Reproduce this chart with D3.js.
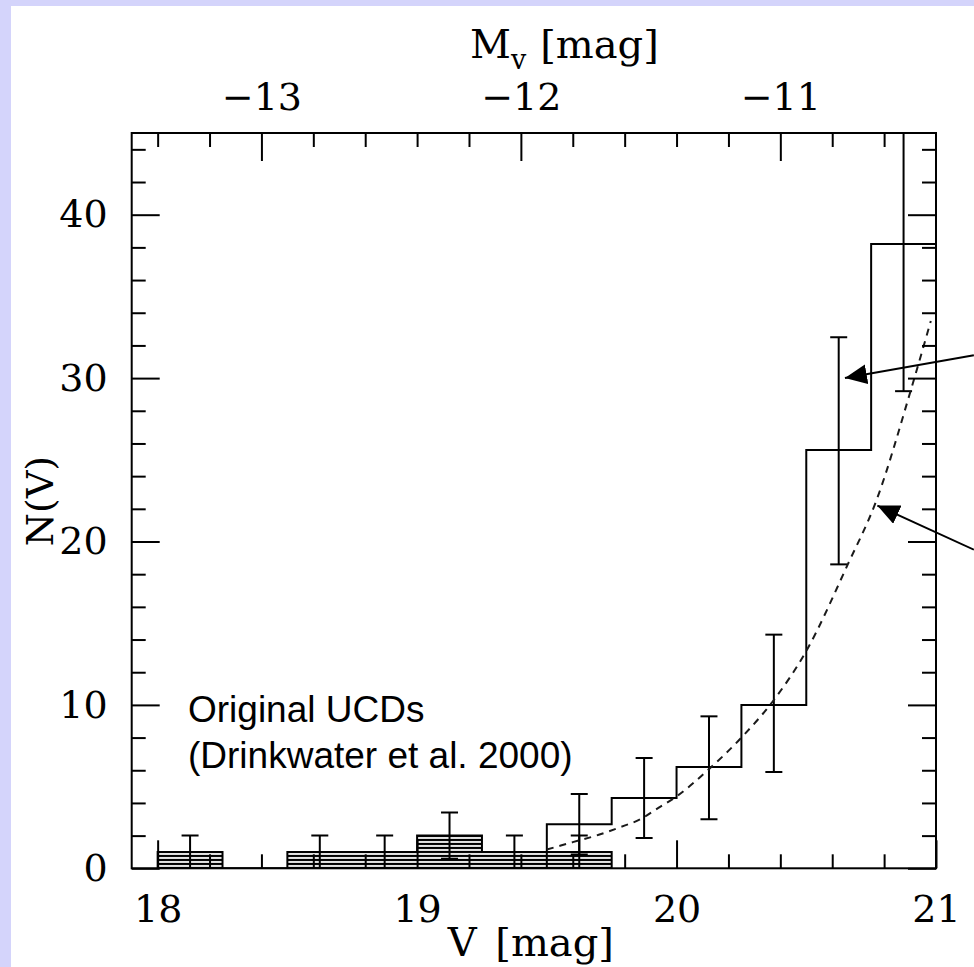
<!DOCTYPE html>
<html>
<head>
<meta charset="utf-8">
<script src="https://cdn.jsdelivr.net/npm/d3@7"></script>
<style>
  html, body { margin: 0; padding: 0; background: #d4d4fb; }
  svg { display: block; }
</style>
</head>
<body>
<svg id="chart" width="974" height="967"></svg>
<script>
// ---- Data -------------------------------------------------------------
// Full sample: luminosity function in V (bin edges, counts, error-bar limits)
const mainEdges   = [19.5, 19.75, 20.0, 20.25, 20.5, 20.75, 21.0];
const mainCounts  = [2.7, 4.3, 6.2, 10.0, 25.6, 38.2];
const mainErrLow  = [0.85, 1.85, 3.0, 5.9, 18.6, 29.2];
const mainErrHigh = [4.55, 6.75, 9.3, 14.3, 32.5, 47.2];

// Original UCDs (Drinkwater et al. 2000), hatched histogram
const ucdEdges   = [18.0, 18.25, 18.5, 18.75, 19.0, 19.25, 19.5, 19.75];
const ucdCounts  = [1, 0, 1, 1, 2, 1, 1];
const ucdErrLow  = [0, 0, 0, 0, 0.59, 0, 0];
const ucdErrHigh = [2, 0, 2, 2, 3.41, 2, 2];

// Fitted model curve (dashed)
const fitV = [19.50, 19.60, 19.70, 19.78, 19.86, 19.93, 20.00, 20.12, 20.25, 20.375, 20.50, 20.66, 20.77, 20.90, 20.98];
const fitN = [1.15, 1.6, 2.05, 2.5, 3.0, 3.7, 4.4, 6.0, 8.0, 10.3, 13.3, 18.6, 22.5, 29.1, 33.5];

// Axis ticks and labels
const xTicksMajor   = [18, 19, 20, 21];
const yTicksMajor   = [0, 10, 20, 30, 40];
const topTicksMajor = [-13, -12, -11];
const distanceModulus = 31.4;   // M_V = V - (m - M)

const annotationLines = ["Original UCDs", "(Drinkwater et al. 2000)"];

// ---- Layout -----------------------------------------------------------
const svg = d3.select("#chart");
const plot = { left: 131.7, right: 936, top: 133, bottom: 868.3 };

const x = d3.scaleLinear().domain([17.9, 21]).range([plot.left, plot.right]);
const xTop = d3.scaleLinear()
  .domain(x.domain().map(v => v - distanceModulus))
  .range([plot.left, plot.right]);
const y = d3.scaleLinear().domain([0, 45]).range([plot.bottom, plot.top]);

// white panel
svg.append("rect").attr("x", 11).attr("y", 6)
  .attr("width", 974 - 11).attr("height", 967 - 6).attr("fill", "#fff");

const defs = svg.append("defs");
defs.append("clipPath").attr("id", "plotClip")
  .append("rect")
  .attr("x", plot.left).attr("y", plot.top)
  .attr("width", plot.right - plot.left).attr("height", plot.bottom - plot.top);

// horizontal hatching
const hatch = defs.append("pattern")
  .attr("id", "hatch").attr("patternUnits", "userSpaceOnUse")
  .attr("x", 0).attr("y", y(1) - 1).attr("width", 8).attr("height", 4);
hatch.append("rect").attr("width", 8).attr("height", 4).attr("fill", "#e4e4e4");
hatch.append("rect").attr("width", 8).attr("height", 2).attr("fill", "#000");

defs.append("marker")
  .attr("id", "arrowHead").attr("markerUnits", "userSpaceOnUse")
  .attr("viewBox", "0 0 22 20").attr("refX", 22).attr("refY", 10)
  .attr("markerWidth", 22).attr("markerHeight", 20).attr("orient", "auto")
  .append("path").attr("d", "M0,0 L22,10 L0,20 Z").attr("fill", "#000");

const g = svg.append("g").attr("clip-path", "url(#plotClip)");

// ---- Hatched histogram (original UCDs) ---------------------------------
const stepPoints = (edges, counts) => {
  const pts = counts.map((c, i) => [edges[i], c]);
  pts.push([edges[edges.length - 1], counts[counts.length - 1]]);
  return pts;
};

const ucdArea = d3.area()
  .x(d => x(d[0])).y0(y(0)).y1(d => y(d[1]))
  .curve(d3.curveStepAfter);
g.append("path")
  .datum(stepPoints(ucdEdges, ucdCounts))
  .attr("d", ucdArea)
  .attr("fill", "url(#hatch)")
  .attr("stroke", "#000").attr("stroke-width", 2);

// ---- Main histogram -----------------------------------------------------
const mainLine = d3.line()
  .x(d => x(d[0])).y(d => y(d[1]))
  .curve(d3.curveStepAfter);
g.append("path")
  .datum([[mainEdges[0], 0]].concat(stepPoints(mainEdges, mainCounts)))
  .attr("d", mainLine)
  .attr("fill", "none").attr("stroke", "#000").attr("stroke-width", 2);

// ---- Error bars ---------------------------------------------------------
function errorBars(edges, counts, lo, hi) {
  const data = counts.map((c, i) => ({
    v: (edges[i] + edges[i + 1]) / 2, lo: lo[i], hi: hi[i], c
  })).filter(d => d.hi > d.lo);
  const eb = g.append("g").attr("stroke", "#000").attr("stroke-width", 2);
  eb.selectAll("line.bar").data(data).join("line")
    .attr("x1", d => x(d.v)).attr("x2", d => x(d.v))
    .attr("y1", d => y(d.lo)).attr("y2", d => y(d.hi));
  const caps = [];
  data.forEach(d => { caps.push({ v: d.v, n: d.hi }); if (d.lo > 0) caps.push({ v: d.v, n: d.lo }); });
  eb.selectAll("line.cap").data(caps).join("line")
    .attr("x1", d => x(d.v) - 8.5).attr("x2", d => x(d.v) + 8.5)
    .attr("y1", d => y(d.n)).attr("y2", d => y(d.n));
}
errorBars(ucdEdges, ucdCounts, ucdErrLow, ucdErrHigh);
errorBars(mainEdges, mainCounts, mainErrLow, mainErrHigh);

// ---- Fitted curve -------------------------------------------------------
g.append("path")
  .datum(fitV.map((v, i) => [v, fitN[i]]))
  .attr("d", d3.line().x(d => x(d[0])).y(d => y(d[1])).curve(d3.curveMonotoneX))
  .attr("fill", "none").attr("stroke", "#1a1a1a")
  .attr("stroke-width", 2).attr("stroke-dasharray", "7,6");

// ---- Axes ---------------------------------------------------------------
const serif = "DejaVu Serif";
const fmt = d3.format("d");
const xMinor = d3.range(90, 106).map(k => k / 5).filter(v => !Number.isInteger(v));
const yMinor = d3.range(2, 45, 2).filter(v => v % 10 !== 0);
const topMinor = d3.range(-67, -52).map(k => k / 5).filter(v => !Number.isInteger(v));

function styleAxis(sel) {
  sel.select(".domain").remove();
  sel.selectAll(".tick line").attr("stroke", "#000").attr("stroke-width", 2);
  sel.attr("font-family", serif).attr("font-size", 38);
  sel.selectAll("text").attr("fill", "#000");
}

// bottom
svg.append("g").attr("transform", `translate(0,${plot.bottom})`)
  .call(d3.axisBottom(x).tickValues(xTicksMajor).tickFormat(fmt)
    .tickSizeInner(-28).tickSizeOuter(0).tickPadding(27))
  .call(styleAxis);
svg.append("g").attr("transform", `translate(0,${plot.bottom})`)
  .call(d3.axisBottom(x).tickValues(xMinor).tickFormat("")
    .tickSizeInner(-14).tickSizeOuter(0))
  .call(styleAxis);

// top (absolute magnitude)
svg.append("g").attr("transform", `translate(0,${plot.top})`)
  .call(d3.axisTop(xTop).tickValues(topTicksMajor).tickFormat(fmt)
    .tickSizeInner(-28).tickSizeOuter(0).tickPadding(23))
  .call(styleAxis);
svg.append("g").attr("transform", `translate(0,${plot.top})`)
  .call(d3.axisTop(xTop).tickValues(topMinor).tickFormat("")
    .tickSizeInner(-14).tickSizeOuter(0))
  .call(styleAxis);

// left
svg.append("g").attr("transform", `translate(${plot.left},0)`)
  .call(d3.axisLeft(y).tickValues(yTicksMajor).tickFormat(fmt)
    .tickSizeInner(-28).tickSizeOuter(0).tickPadding(24))
  .call(styleAxis);
svg.append("g").attr("transform", `translate(${plot.left},0)`)
  .call(d3.axisLeft(y).tickValues(yMinor).tickFormat("")
    .tickSizeInner(-14).tickSizeOuter(0))
  .call(styleAxis);

// right
svg.append("g").attr("transform", `translate(${plot.right},0)`)
  .call(d3.axisRight(y).tickValues(yTicksMajor).tickFormat("")
    .tickSizeInner(-28).tickSizeOuter(0))
  .call(styleAxis);
svg.append("g").attr("transform", `translate(${plot.right},0)`)
  .call(d3.axisRight(y).tickValues(yMinor).tickFormat("")
    .tickSizeInner(-14).tickSizeOuter(0))
  .call(styleAxis);

// frame
svg.append("rect")
  .attr("x", plot.left).attr("y", plot.top)
  .attr("width", plot.right - plot.left).attr("height", plot.bottom - plot.top)
  .attr("fill", "none").attr("stroke", "#000").attr("stroke-width", 2);

// ---- Axis titles --------------------------------------------------------
svg.append("text")
  .attr("x", (plot.left + plot.right) / 2 - 3).attr("y", 956)
  .attr("text-anchor", "middle")
  .attr("font-family", serif).attr("font-size", 40)
  .attr("word-spacing", 6)
  .text("V [mag]");

const topTitle = svg.append("text")
  .attr("x", 470).attr("y", 58)
  .attr("font-family", serif).attr("font-size", 40);
topTitle.append("tspan").text("M");
topTitle.append("tspan").attr("font-size", 27).attr("dy", 11).text("v");
topTitle.append("tspan").attr("dy", -11).attr("dx", 14).text("[mag]");

svg.append("text")
  .attr("transform", "translate(53,501) rotate(-90)")
  .attr("text-anchor", "middle")
  .attr("font-family", serif).attr("font-size", 38)
  .text("N(V)");

// ---- Annotations --------------------------------------------------------
svg.append("g")
  .attr("font-family", "Liberation Sans, Arial, sans-serif")
  .attr("font-size", 37).attr("fill", "#000")
  .selectAll("text").data(annotationLines).join("text")
  .attr("x", 188).attr("y", (d, i) => 722 + i * 46)
  .text(d => d);

// arrows pointing at the histogram and the fitted curve
const arrows = [
  { from: [21.146, 31.4], to: [20.649, 30.0] },
  { from: [21.146, 19.5], to: [20.774, 22.2] }
];
svg.append("g").selectAll("line").data(arrows).join("line")
  .attr("x1", d => x(d.from[0])).attr("y1", d => y(d.from[1]))
  .attr("x2", d => x(d.to[0])).attr("y2", d => y(d.to[1]))
  .attr("stroke", "#000").attr("stroke-width", 2)
  .attr("marker-end", "url(#arrowHead)");
</script>
</body>
</html>
